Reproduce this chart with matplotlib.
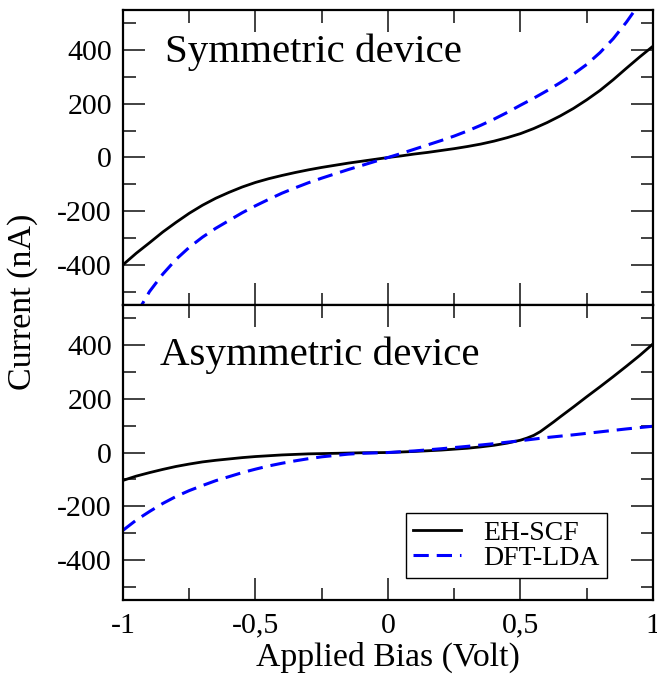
import matplotlib
matplotlib.use("Agg")
import matplotlib.pyplot as plt
from matplotlib.ticker import MultipleLocator

# bias points (V) and currents (nA)
x_sym_eh = [-1.0, -0.95, -0.9, -0.85, -0.8, -0.75, -0.7, -0.65, -0.6, -0.55,
            -0.5, -0.45, -0.4, -0.35, -0.3, -0.25, -0.2, -0.15, -0.1, -0.05,
            0.0, 0.05, 0.1, 0.15, 0.2, 0.25, 0.3, 0.35, 0.4, 0.45,
            0.5, 0.55, 0.6, 0.65, 0.7, 0.75, 0.8, 0.85, 0.9, 0.95, 1.0]
i_sym_eh = [-400, -357, -318, -278, -242, -208, -178, -152, -130, -110,
            -93, -79, -67, -56, -46, -37, -29, -21, -14, -7,
            0, 6, 13, 19, 26, 33, 41, 50, 61, 74,
            89, 108, 130, 155, 183, 215, 250, 290, 333, 375, 415]

x_sym_dft = [-0.95, -0.9, -0.85, -0.8, -0.75, -0.7, -0.65, -0.6, -0.55,
             -0.5, -0.45, -0.4, -0.35, -0.3, -0.25, -0.2, -0.15, -0.1, -0.05,
             0.0, 0.05, 0.1, 0.15, 0.2, 0.25, 0.3, 0.35, 0.4, 0.45,
             0.5, 0.55, 0.6, 0.65, 0.7, 0.75, 0.8, 0.85, 0.9, 0.95]
i_sym_dft = [-585, -500, -435, -380, -335, -297, -264, -235, -206,
             -180, -156, -133, -113, -94, -77, -61, -45, -30, -15,
             0, 15, 31, 47, 63, 80, 99, 120, 143, 168,
             195, 221, 249, 279, 311, 347, 391, 443, 505, 575]

x_asym_eh = [-1.0, -0.95, -0.9, -0.85, -0.8, -0.75, -0.7, -0.65, -0.6, -0.55,
             -0.5, -0.4, -0.3, -0.2, -0.1, 0.0, 0.1, 0.2, 0.3, 0.35,
             0.4, 0.45, 0.5, 0.525, 0.55, 0.575, 0.6, 0.625, 0.65, 0.7,
             0.75, 0.8, 0.85, 0.9, 0.95, 1.0]
i_asym_eh = [-104, -88, -75, -63, -52, -43, -35, -29, -24, -19,
             -15, -9, -5, -3, -1, 0, 4, 9, 16, 21,
             27, 35, 46, 54, 64, 78, 96, 114, 133, 170,
             208, 245, 283, 322, 362, 405]

x_asym_dft = [-1.0, -0.95, -0.9, -0.85, -0.8, -0.75, -0.7, -0.65, -0.6, -0.55,
              -0.5, -0.45, -0.4, -0.35, -0.3, -0.25, -0.2, -0.15, -0.1, 0.0,
              0.1, 0.2, 0.3, 0.4, 0.5, 0.6, 0.7, 0.8, 0.9, 1.0]
i_asym_dft = [-290, -252, -220, -190, -164, -142, -123, -105, -90, -75,
              -62, -50, -40, -31, -23, -16, -11, -6, -3, 0,
              6, 14, 23, 33, 44, 56, 66, 77, 88, 98]

xticks = [-1, -0.5, 0, 0.5, 1]
xtick_labels = ["-1", "-0,5", "0", "0,5", "1"]
yticks = [-400, -200, 0, 200, 400]
ytick_labels = ["-400", "-200", "0", "200", "400"]

plt.rcParams['font.family'] = ['Liberation Serif', 'DejaVu Serif']

fig = plt.figure(figsize=(6.57, 6.79), dpi=100)
ax_top = fig.add_axes([0.1872, 0.5508, 0.8067, 0.4345])
ax_bot = fig.add_axes([0.1872, 0.1163, 0.8067, 0.4345])

for ax in (ax_top, ax_bot):
    ax.set_xlim(-1, 1)
    ax.set_ylim(-550, 550)
    ax.set_xticks(xticks)
    ax.set_yticks(yticks)
    ax.set_yticklabels(ytick_labels)
    ax.xaxis.set_minor_locator(MultipleLocator(0.25))
    ax.yaxis.set_minor_locator(MultipleLocator(100))
    ax.tick_params(which='both', direction='in', top=True, right=True,
                   labelsize=21.5, width=1.3, color='#333333')
    ax.tick_params(which='major', length=16, pad=8)
    ax.tick_params(which='minor', length=9)
    ax.tick_params(axis='x', which='major', pad=9)
    for sp in ax.spines.values():
        sp.set_linewidth(1.6)

ax_top.set_xticklabels([])
ax_bot.set_xticklabels(xtick_labels)

ax_top.plot(x_sym_eh, i_sym_eh, color='black', lw=2.0)
ax_top.plot(x_sym_dft, i_sym_dft, color='#0000ff', lw=2.2, dashes=(5, 2.6))

ax_bot.plot(x_asym_eh, i_asym_eh, color='black', lw=2.0, label='EH-SCF')
ax_bot.plot(x_asym_dft, i_asym_dft, color='#0000ff', lw=2.2, dashes=(5, 2.6),
            label='DFT-LDA')

ax_top.text(0.079, 0.824, "Symmetric device", transform=ax_top.transAxes,
            fontsize=29.5, va='baseline', ha='left')
ax_bot.text(0.07, 0.797, "Asymmetric device", transform=ax_bot.transAxes,
            fontsize=29.5, va='baseline', ha='left')

leg = ax_bot.legend(loc='lower right', bbox_to_anchor=(0.913, 0.075),
                    borderaxespad=0, fontsize=20, handlelength=1.75,
                    fancybox=False, framealpha=1, edgecolor='black',
                    borderpad=0.25, labelspacing=0.0, handletextpad=0.8)
leg.get_frame().set_linewidth(1.0)

ax_bot.set_xlabel("Applied Bias (Volt)", fontsize=24.3, labelpad=2)
fig.text(0.034, 0.555, "Current (nA)", rotation=90, fontsize=24.5,
         ha='center', va='center')

fig.savefig("out.png", dpi=100)
